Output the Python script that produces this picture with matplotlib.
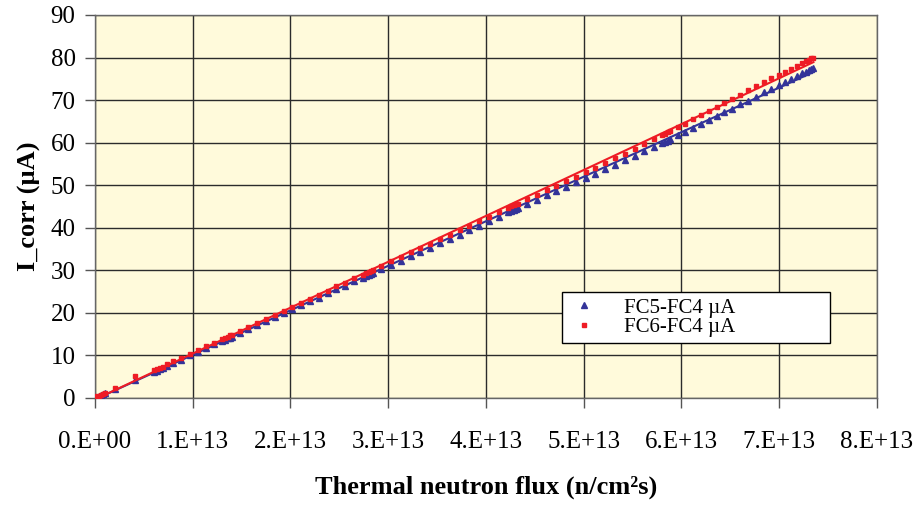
import numpy
import matplotlib
matplotlib.use('Agg')
import matplotlib.pyplot as plt
from matplotlib.ticker import FuncFormatter, MultipleLocator

# flux in units of 1e13 n/cm2s, currents in uA
flux = [
    0.00, 0.02, 0.04, 0.06, 0.08, 0.10, 0.20, 0.41, 0.60, 0.63,
    0.66, 0.70, 0.74, 0.80, 0.88, 0.97, 1.05, 1.14, 1.22, 1.30,
    1.33, 1.36, 1.38, 1.40, 1.48, 1.57, 1.66, 1.75, 1.84, 1.93,
    2.02, 2.11, 2.20, 2.29, 2.38, 2.47, 2.56, 2.65, 2.74, 2.77,
    2.80, 2.82, 2.84, 2.93, 3.03, 3.13, 3.23, 3.33, 3.43, 3.53,
    3.63, 3.73, 3.83, 3.93, 4.03, 4.13, 4.23, 4.26, 4.29, 4.31,
    4.33, 4.42, 4.52, 4.62, 4.72, 4.82, 4.92, 5.02, 5.12, 5.22,
    5.32, 5.42, 5.52, 5.62, 5.72, 5.80, 5.83, 5.86, 5.88, 5.96,
    6.04, 6.12, 6.20, 6.28, 6.36, 6.44, 6.52, 6.60, 6.68, 6.76,
    6.84, 6.92, 7.00, 7.06, 7.12, 7.18, 7.23, 7.27, 7.30, 7.33,
    7.35,
]

fc5_fc4 = [
    0.0, 0.3, 0.5, 0.6, 0.9, 1.1, 2.0, 4.2, 6.1, 6.4,
    6.7, 7.1, 7.6, 8.2, 9.0, 10.0, 10.8, 11.7, 12.6, 13.3,
    13.6, 14.0, 14.2, 14.4, 15.3, 16.2, 17.1, 18.1, 19.0, 19.9,
    20.9, 21.8, 22.7, 23.6, 24.6, 25.5, 26.4, 27.4, 28.3, 28.6,
    28.9, 29.1, 29.4, 30.2, 31.2, 32.2, 33.3, 34.3, 35.3, 36.4,
    37.4, 38.4, 39.4, 40.5, 41.5, 42.5, 43.6, 43.9, 44.2, 44.4,
    44.6, 45.5, 46.6, 47.6, 48.6, 49.6, 50.7, 51.7, 52.7, 53.8,
    54.8, 55.9, 56.9, 58.0, 59.0, 59.9, 60.2, 60.5, 60.8, 61.7,
    62.6, 63.5, 64.4, 65.3, 66.2, 67.1, 68.0, 69.0, 69.9, 70.8,
    71.8, 72.7, 73.6, 74.3, 75.0, 75.7, 76.3, 76.7, 77.0, 77.3,
    77.6,
]

fc6_fc4 = [
    0.2, 0.4, 0.3, 0.8, 0.9, 1.2, 2.4, 5.2, 6.5, 6.8,
    7.1, 7.4, 8.0, 8.6, 9.4, 10.3, 11.2, 12.1, 12.9, 13.8,
    14.2, 14.4, 14.7, 14.8, 15.7, 16.7, 17.6, 18.6, 19.5, 20.5,
    21.4, 22.4, 23.3, 24.3, 25.2, 26.2, 27.1, 28.1, 29.0, 29.4,
    29.7, 29.9, 30.1, 31.0, 32.1, 33.2, 34.2, 35.3, 36.3, 37.4,
    38.4, 39.5, 40.5, 41.6, 42.6, 43.6, 44.7, 45.0, 45.3, 45.5,
    45.7, 46.7, 47.7, 48.8, 49.9, 50.9, 52.0, 53.1, 54.1, 55.2,
    56.3, 57.4, 58.5, 59.6, 60.8, 61.7, 62.1, 62.4, 62.7, 63.6,
    64.5, 65.5, 66.4, 67.4, 68.4, 69.4, 70.3, 71.3, 72.3, 73.2,
    74.2, 75.1, 76.0, 76.7, 77.4, 78.1, 78.7, 79.2, 79.5, 79.8,
    80.0,
]

labels = ['FC5-FC4 \u00b5A', 'FC6-FC4 \u00b5A']
BLUE = '#333399'
RED = '#ee1c25'

plt.rcParams['font.family'] = ['Liberation Serif', 'DejaVu Serif']


def flux_label(v, pos):
    # excel style "1.E+13" labels
    if v == 0:
        return '0.E+00'
    return '%d.E+13' % round(v / 1e13)


def plot_data():
    fig = plt.figure(figsize=(9.16, 5.05), dpi=100)
    ax = fig.add_axes([0.1037, 0.2119, 0.8537, 0.7584])
    ax.set_facecolor('#fffadb')

    x = numpy.array(flux) * 1e13

    ax.plot(x, fc5_fc4, '^', color=BLUE, ms=5, mec=BLUE, label=labels[0],
            zorder=3)
    ax.plot(x, fc6_fc4, 's', color=RED, ms=3.5, mec=RED, label=labels[1],
            zorder=4)

    # linear trend lines, like the excel ones
    xs = numpy.array([0, x.max()])
    for y, c, z in ((fc5_fc4, BLUE, 3.5), (fc6_fc4, RED, 4.5)):
        k, b = numpy.polyfit(x, y, 1)
        ax.plot(xs, k * xs + b, '-', color=c, lw=1.5, zorder=z)

    ax.set_xlim(0, 8e13)
    ax.set_ylim(0, 90)
    ax.xaxis.set_major_locator(MultipleLocator(1e13))
    ax.yaxis.set_major_locator(MultipleLocator(10))
    ax.xaxis.set_major_formatter(FuncFormatter(flux_label))

    ax.grid(True, color='#2b2b2b', lw=1.0)
    ax.set_axisbelow(True)
    for s in ax.spines.values():
        s.set_color('#666666')
        s.set_linewidth(1.0)

    ax.tick_params(axis='both', direction='out', length=7, width=1,
                   color='#555555', labelsize=18)
    ax.tick_params(axis='x', pad=17)
    ax.tick_params(axis='y', pad=7)

    ax.set_xlabel('Thermal neutron flux (n/cm\u00b2s)', fontsize=19,
                  fontweight='bold', labelpad=16)
    ax.set_ylabel('I_corr (\u00b5A)', fontsize=19, fontweight='bold',
                  labelpad=7)

    leg = ax.legend(loc='center', bbox_to_anchor=(0.597, 0.1436, 0.343, 0.133),
                    mode='expand', fontsize=15, frameon=True, fancybox=False,
                    framealpha=1, edgecolor='black', labelspacing=0.0,
                    handlelength=1.5, handletextpad=1.2, borderpad=0.3,
                    borderaxespad=0)
    leg.get_frame().set_linewidth(1.0)

    fig.savefig('out.png', dpi=100, facecolor='white')


if __name__ == '__main__':
    plot_data()
